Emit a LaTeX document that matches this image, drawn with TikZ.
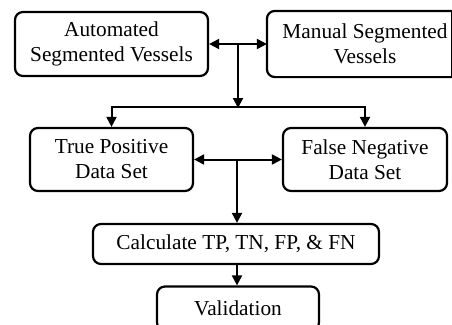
\documentclass[tikz,border=0pt]{standalone}
\usepackage{fontspec}
\setmainfont{Liberation Serif}
\usetikzlibrary{arrows.meta}
\begin{document}
\begin{tikzpicture}[x=1pt,y=-1pt,
  boxline/.style={line width=2.2pt},
  box/.style={draw, boxline, rounded corners=8pt, align=center,
    inner sep=0pt, font=\fontsize{21.3}{25}\selectfont},
  conn/.style={line width=2pt, -{Triangle[length=10pt,width=10pt]}},
  biconn/.style={line width=2pt, {Triangle[length=10pt,width=10pt]}-{Triangle[length=10pt,width=10pt]}}]
\useasboundingbox (0,0) rectangle (452,324);
\clip (0,0) rectangle (452,324);
\node[box, minimum width=193pt, minimum height=64pt] (A) at (111.5,44) {Automated\\Segmented Vessels};
\node[box, draw=none, minimum width=194pt, minimum height=64pt] (B) at (365,44) {Manual Segmented\\Vessels};
\coordinate (Bre) at (451.5,44);
\draw[boxline, line cap=rect, rounded corners=8pt] (B.north -| Bre) -- (B.north west) -- (B.south west) -- (B.south -| Bre);
\draw[line width=1.4pt, line cap=rect] (B.north -| Bre) -- (B.south -| Bre);
\node[box, minimum width=163pt, minimum height=63pt] (C) at (111.5,159.5) {True Positive\\Data Set};
\node[box, minimum width=164pt, minimum height=63pt] (D) at (365,159.5) {False Negative\\Data Set};
\node[box, minimum width=286pt, minimum height=40pt] (E) at (236,244) {Calculate TP, TN, FP, \& FN};
\node[box, minimum width=162pt, minimum height=44pt] (F) at (238,308.5) {Validation};
\coordinate (j1) at (238,44);
\coordinate (h) at (238,107);
\coordinate (j2) at (237,160);
\draw[biconn] (A.east) -- (B.west);
\draw[conn] (j1) -- ([yshift=-1pt]h);
\draw[biconn] (C.north) -- (C.north |- h) -- (D.north |- h) -- (D.north);
\draw[biconn] (C.east) -- (D.west);
\draw[conn] (j2) -- (j2 |- E.north);
\draw[conn] (j2 |- E.south) -- (j2 |- F.north);
\end{tikzpicture}
\end{document}
